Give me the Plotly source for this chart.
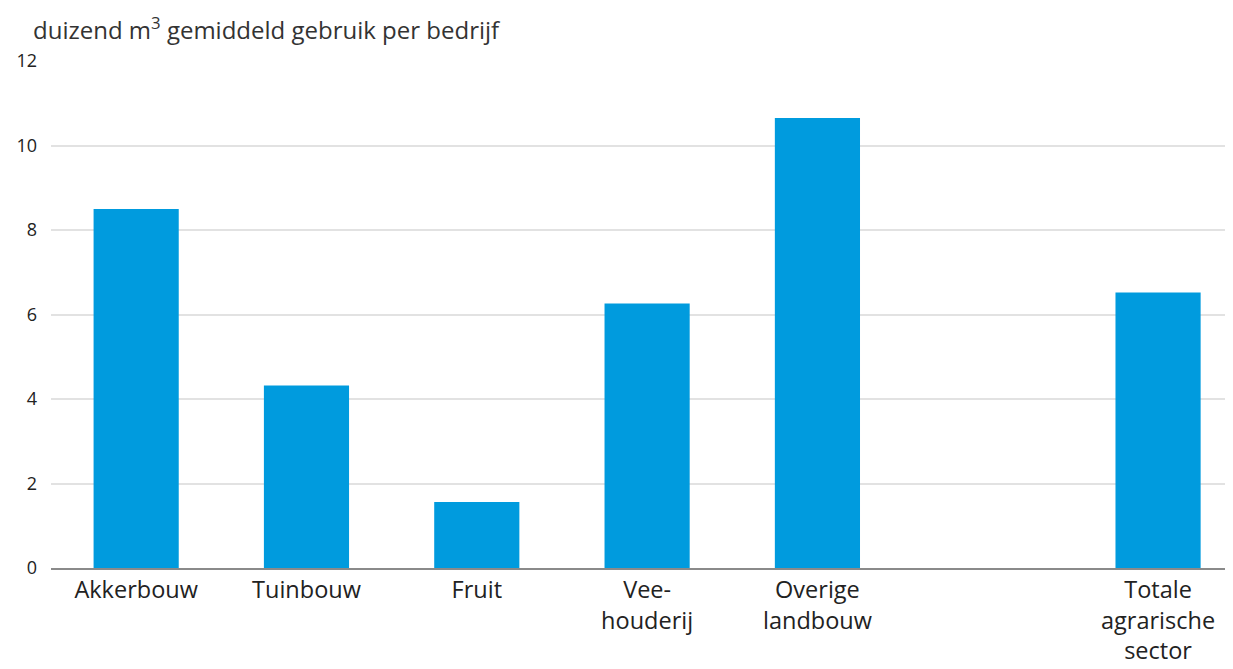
import plotly.graph_objects as go

categories = ["Akkerbouw", "Tuinbouw", "Fruit", "Vee-<br>houderij", "Overige<br>landbouw", " ", "Totale<br>agrarische<br>sector"]
values = [8.50, 4.32, 1.56, 6.26, 10.65, None, 6.52]
y_ticks = [0, 2, 4, 6, 8, 10, 12]
title_text = "duizend m<sup>3</sup> gemiddeld gebruik per bedrijf"

FONT = "Open Sans"
BLUE = "#009BDE"

fig = go.Figure(
    go.Bar(
        x=categories,
        y=values,
        marker=dict(color=BLUE, line=dict(width=0)),
        width=0.5,
        hoverinfo="skip",
    )
)

fig.update_layout(
    width=1233,
    height=669,
    margin=dict(l=39, r=8, t=53, b=109),
    paper_bgcolor="white",
    plot_bgcolor="white",
    showlegend=False,
    font=dict(family=FONT, color="#222222"),
    title=dict(
        text=title_text,
        x=25 / 1233,
        xanchor="left",
        xref="container",
        y=1 - 23 / 669,
        yanchor="middle",
        yref="container",
        font=dict(family=FONT, size=24, color="#333333"),
    ),
)

fig.update_xaxes(
    type="category",
    categoryorder="array",
    categoryarray=categories,
    range=[-0.5, 6.44],
    showgrid=False,
    showline=True,
    linecolor="#8a8a8a",
    linewidth=2,
    ticks="",
    tickfont=dict(family=FONT, size=23.5, color="#222222"),
    fixedrange=True,
)

fig.update_yaxes(
    range=[0, 12],
    tickvals=y_ticks,
    showgrid=True,
    gridcolor="#e2e2e2",
    gridwidth=2,
    zeroline=False,
    showline=False,
    ticks="",
    ticklabelstandoff=13,
    tickfont=dict(family=FONT, size=18, color="#222222"),
    fixedrange=True,
)

fig.write_html("out.html")
